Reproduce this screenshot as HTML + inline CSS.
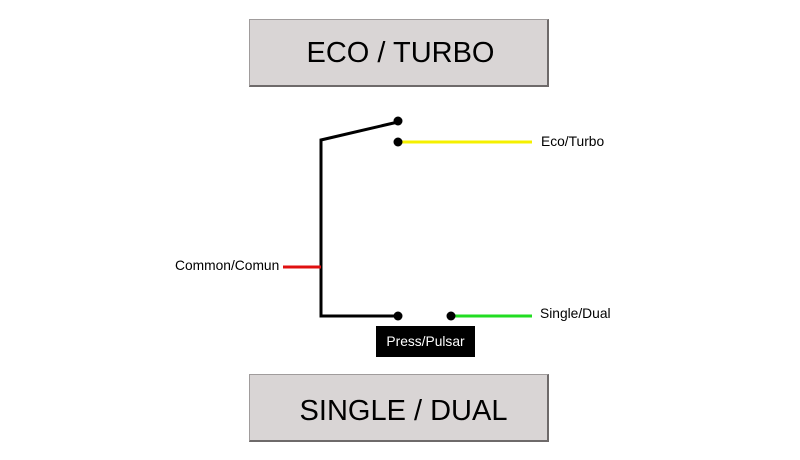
<!DOCTYPE html>
<html><head><style>
body{margin:0;width:800px;height:460px;background:#fff;position:relative;overflow:hidden;font-family:"Liberation Sans",Arial,sans-serif}
.box{position:absolute;left:249px;width:297px;height:66px;background:#d9d5d5;border:1px solid #a09c9c;border-right:2px solid #6e6a6a;border-bottom:2px solid #6e6a6a;box-sizing:border-box;font-size:29px;color:#000;text-align:center;line-height:64px}
.lbl{position:absolute;font-size:13.8px;color:#000;line-height:16px}
</style></head><body>
<div class="box" style="top:19px;width:300px;height:68px;line-height:66px;padding-left:4px">ECO / TURBO</div>
<div class="box" style="top:374px;width:300px;height:68px;line-height:72px;padding-left:10px">SINGLE / DUAL</div>
<svg width="800" height="460" style="position:absolute;left:0;top:0">
<polyline points="398,122 321,140 321,316 398,316" fill="none" stroke="#000" stroke-width="3"/>
<line x1="283" y1="267" x2="321" y2="267" stroke="#e01010" stroke-width="3"/>
<line x1="398" y1="142" x2="532" y2="142" stroke="#f5f000" stroke-width="3"/>
<line x1="451" y1="316" x2="532" y2="316" stroke="#22dd22" stroke-width="3"/>
<circle cx="398" cy="121" r="4.5" fill="#000"/>
<circle cx="398" cy="142" r="4.5" fill="#000"/>
<circle cx="398" cy="316" r="4.5" fill="#000"/>
<circle cx="451" cy="316" r="4.5" fill="#000"/>
<rect x="376" y="326" width="99" height="31" fill="#000"/>
<text x="425.5" y="346" font-size="13.8" fill="#fff" text-anchor="middle" font-family="Liberation Sans, Arial, sans-serif">Press/Pulsar</text>
</svg>
<div class="lbl" style="left:541px;top:134px">Eco/Turbo</div>
<div class="lbl" style="left:175px;top:258px">Common/Comun</div>
<div class="lbl" style="left:540px;top:306px">Single/Dual</div>
</body></html>
